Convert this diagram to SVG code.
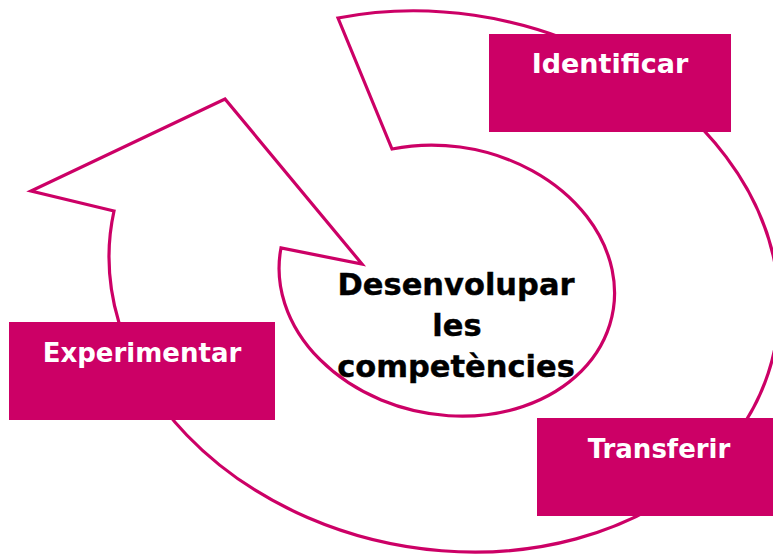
<svg xmlns="http://www.w3.org/2000/svg" width="773" height="554" viewBox="0 0 773 554">
  <style>
    .cycle { fill: none; stroke: #CC0066; stroke-width: 3.2; stroke-linejoin: miter; stroke-miterlimit: 10; }
    .box { fill: #CC0066; }
    .label { font-family: "DejaVu Sans", "Liberation Sans", sans-serif; font-weight: bold; font-size: 26px; fill: #FFFFFF; text-anchor: middle; }
    .core { font-family: "DejaVu Sans", "Liberation Sans", sans-serif; font-weight: bold; font-size: 30.5px; fill: #000000; stroke: #000000; stroke-width: 0.4; text-anchor: middle; }
  </style>
  <rect width="773" height="554" fill="#FFFFFF"/>

  <!-- circular arrow running round the centre -->
  <g id="connectors">
    <path class="cycle" d="M 114 211 L 31 191 L 225 99 L 362 264 L 281 248 A 169 134 11.5 1 0 392 149 L 338 18 A 337.5 267.5 11.5 1 1 114 211 Z"/>
  </g>

  <g id="node-centre">
    <text class="core" x="456" y="295">Desenvolupar</text>
    <text class="core" x="457" y="336">les</text>
    <text class="core" x="456" y="377">competències</text>
  </g>

  <g id="node-identificar">
    <rect class="box" x="489" y="34" width="242" height="98"/>
    <text class="label" x="610" y="73" style="font-size:27px">Identificar</text>
  </g>

  <g id="node-transferir">
    <rect class="box" x="537" y="418" width="240" height="98"/>
    <text class="label" x="659" y="458">Transferir</text>
  </g>

  <g id="node-experimentar">
    <rect class="box" x="9" y="322" width="266" height="98"/>
    <text class="label" x="142" y="362">Experimentar</text>
  </g>
</svg>
